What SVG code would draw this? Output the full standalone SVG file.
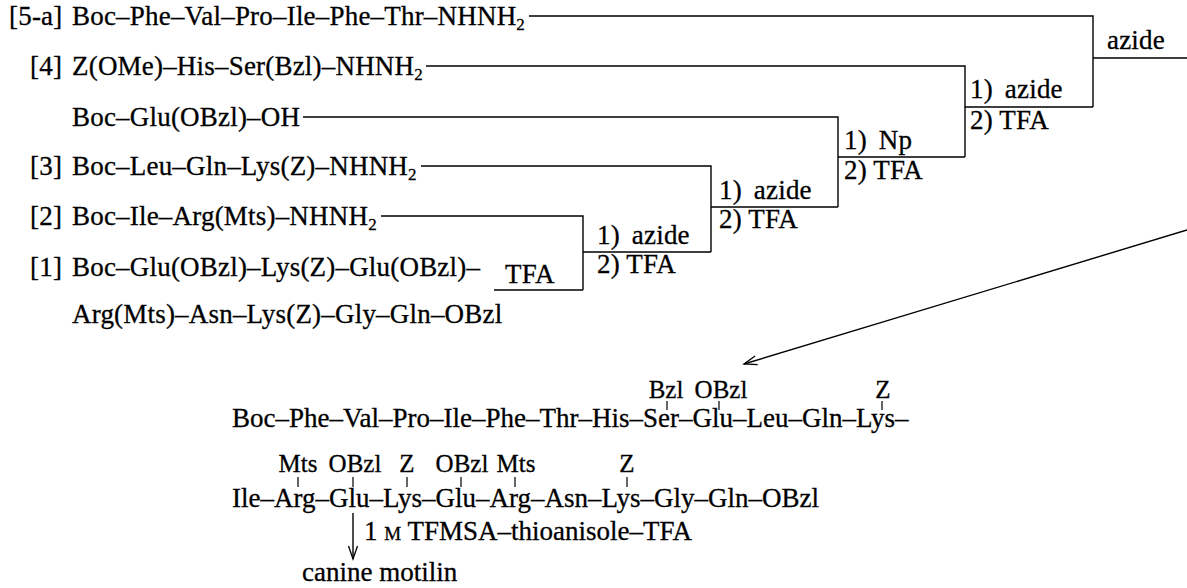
<svg xmlns="http://www.w3.org/2000/svg" width="1187" height="588" viewBox="0 0 1187 588">
<defs>
<style>
.t{font-family:"Liberation Serif","Times New Roman",serif;font-size:27px;fill:#000;letter-spacing:0.2px;stroke:#000;stroke-width:0.3}
.b{font-family:"Liberation Serif","Times New Roman",serif;font-size:27px;fill:#000;stroke:#000;stroke-width:0.3}
.s{font-family:"Liberation Serif","Times New Roman",serif;font-size:25px;fill:#000;text-anchor:middle;stroke:#000;stroke-width:0.3}
.sub{font-size:17px}
.ln{fill:none;stroke:#000;stroke-width:1.4}
.tk{fill:none;stroke:#000;stroke-width:1.2}
</style>
<marker id="ah" markerUnits="userSpaceOnUse" markerWidth="30" markerHeight="30" refX="0" refY="0" viewBox="-15 -15 30 30" orient="auto" overflow="visible">
<path d="M-13,-4.5 L0,0 L-13,4.5" fill="none" stroke="#000" stroke-width="1.3"/>
</marker>
</defs>
<rect width="1187" height="588" fill="#fff"/>

<g id="frag5a"><text class="t" x="9" y="25">[5-a]</text><text class="t" x="72" y="25">Boc–Phe–Val–Pro–Ile–Phe–Thr–NHNH<tspan class="sub" dy="5">2</tspan></text></g>
<g id="frag4"><text class="t" x="30" y="75">[4]</text><text class="t" x="72" y="75">Z(OMe)–His–Ser(Bzl)–NHNH<tspan class="sub" dy="5">2</tspan></text></g>
<g id="gluOH"><text class="t" x="72" y="126">Boc–Glu(OBzl)–OH</text></g>
<g id="frag3"><text class="t" x="30" y="175">[3]</text><text class="t" x="72" y="175">Boc–Leu–Gln–Lys(Z)–NHNH<tspan class="sub" dy="5">2</tspan></text></g>
<g id="frag2"><text class="t" x="30" y="225">[2]</text><text class="t" x="72" y="225">Boc–Ile–Arg(Mts)–NHNH<tspan class="sub" dy="5">2</tspan></text></g>
<g id="frag1"><text class="t" x="30" y="276">[1]</text><text class="t" x="72" y="276">Boc–Glu(OBzl)–Lys(Z)–Glu(OBzl)–</text><text class="t" x="72" y="323">Arg(Mts)–Asn–Lys(Z)–Gly–Gln–OBzl</text></g>

<g id="reagents">
<text class="t" x="1107" y="49">azide</text>
<text class="t" x="970" y="98" word-spacing="5">1) azide</text><text class="t" x="970" y="129">2) TFA</text>
<text class="t" x="844" y="149" word-spacing="5">1) Np</text><text class="t" x="844" y="179">2) TFA</text>
<text class="t" x="719" y="199" word-spacing="5">1) azide</text><text class="t" x="719" y="228">2) TFA</text>
<text class="t" x="597" y="244" word-spacing="5">1) azide</text><text class="t" x="597" y="273">2) TFA</text>
<text class="t" x="505" y="283">TFA</text>
</g>

<g id="connectors">
<path class="ln" d="M529 16H1093V107M1093 58H1187"/>
<path class="ln" d="M426 66H965V157M965 107H1093"/>
<path class="ln" d="M303 117H838V207M838 157H965"/>
<path class="ln" d="M421 166H711V252M711 207H838"/>
<path class="ln" d="M381 216H583V290M583 252H711M494 290H583"/>
<path class="ln" d="M1187 230L744 364" marker-end="url(#ah)"/>
<path class="ln" d="M353 513V559" marker-end="url(#ah)"/>
</g>

<g id="product">
<text class="s" x="666" y="398">Bzl</text>
<text class="s" x="721" y="398">OBzl</text>
<text class="s" x="883" y="398">Z</text>
<path class="tk" d="M667 401V410M719 401V410M882 401V410"/>
<text class="b" x="232" y="427">Boc–Phe–Val–Pro–Ile–Phe–Thr–His–Ser–Glu–Leu–Gln–Lys–</text>
<text class="s" x="298" y="472">Mts</text>
<text class="s" x="355" y="472">OBzl</text>
<text class="s" x="407" y="472">Z</text>
<text class="s" x="462" y="472">OBzl</text>
<text class="s" x="516" y="472">Mts</text>
<text class="s" x="627" y="472">Z</text>
<path class="tk" d="M298 477V487M353 477V487M407 477V487M461 477V487M515 477V487M627 477V487"/>
<text class="b" x="232" y="507">Ile–Arg–Glu–Lys–Glu–Arg–Asn–Lys–Gly–Gln–OBzl</text>
</g>

<g id="cleavage"><text class="b" x="364" y="540">1 <tspan font-size="19">M</tspan> TFMSA–thioanisole–TFA</text></g>
<g id="final"><text class="b" x="302" y="581">canine motilin</text></g>
</svg>
